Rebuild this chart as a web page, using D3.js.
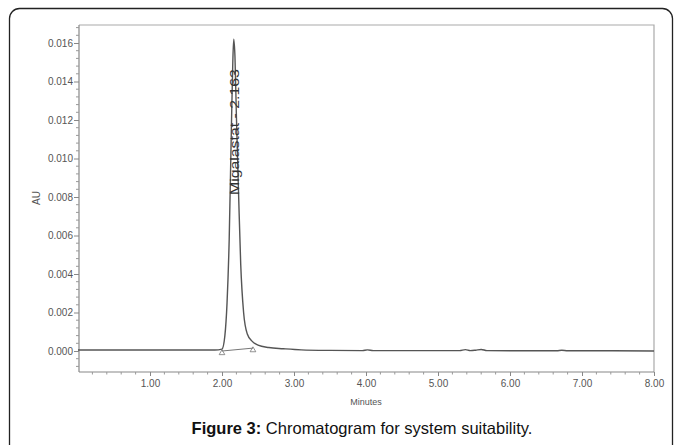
<!DOCTYPE html>
<html>
<head>
<meta charset="utf-8">
<script src="https://cdn.jsdelivr.net/npm/d3@7"></script>
<style>
  body { margin: 0; background: #fff; }
  svg { display: block; font-family: "Liberation Sans", Arial, sans-serif; }
</style>
</head>
<body>
<svg id="chart" width="683" height="445"></svg>
<script>
// chromatogram trace (minutes, AU)
const times = [0, 0.5, 1.0, 1.5, 1.9, 2.0, 2.04, 2.07, 2.10, 2.13, 2.15, 2.163, 2.18, 2.20, 2.23, 2.26, 2.30, 2.35, 2.42, 2.5, 2.65, 2.85, 3.1, 3.5, 3.95, 4.02, 4.1, 4.6, 5.3, 5.38, 5.45, 5.52, 5.6, 5.68, 6.2, 6.65, 6.72, 6.8, 7.4, 8.0];
const absorb = [0.00005, 0.00005, 0.00005, 0.00005, 0.00005, 0.0001, 0.0008, 0.0025, 0.0058, 0.0115, 0.0150, 0.0162, 0.0153, 0.0122, 0.0082, 0.0045, 0.0020, 0.0009, 0.0005, 0.0003, 0.00018, 0.00012, 0.00006, 0.00003, 0.00002, 0.00006, 0.00002, 0.00002, 0.00002, 0.00007, 0.00002, 0.00004, 0.00008, 0.00002, 0.00001, 0.00001, 0.00004, 0.00001, 0.00001, 0.0];
// integration baseline start/end
const baseT = [2.0, 2.43];
const baseA = [0.0, 0.00015];

const yTicks = [0.000, 0.002, 0.004, 0.006, 0.008, 0.010, 0.012, 0.014, 0.016];
const xTicks = [1, 2, 3, 4, 5, 6, 7, 8];
const peakLabel = "Migalastat - 2.163";

const svg = d3.select("#chart");

// outer figure frame
svg.append("rect")
    .attr("x", 9.5).attr("y", 8.5)
    .attr("width", 663).attr("height", 470)
    .attr("rx", 10)
    .attr("fill", "none")
    .attr("stroke", "#222")
    .attr("stroke-width", 1.3);

const plotL = 79, plotR = 654, plotT = 25, plotB = 372;

const x = d3.scaleLinear().domain([0, 8]).range([78, 654]);
const y = d3.scaleLinear().domain([0, 0.016]).range([351, 43]);

// frame top and right
svg.append("path")
    .attr("d", "M" + plotL + "," + plotT + "H" + plotR + "V" + plotB)
    .attr("fill", "none")
    .attr("stroke", "#aaa")
    .attr("stroke-width", 1.2);

// y axis
const yAxis = svg.append("g")
    .attr("transform", "translate(" + plotL + ",0)")
    .call(d3.axisLeft(y).tickValues(yTicks).tickFormat(d3.format(".3f")).tickSize(5).tickSizeOuter(0));
yAxis.select(".domain").remove();
yAxis.append("line")
    .attr("y1", plotT).attr("y2", plotB)
    .attr("stroke", "#888").attr("stroke-width", 1.2);
yAxis.selectAll(".tick line").attr("stroke", "#888");
yAxis.selectAll(".tick text").attr("fill", "#555").attr("font-size", 10).attr("x", -6);

const yMinor = d3.range(-0.0008, 0.01695, 0.0004).filter(function(v) { return Math.abs(Math.round(v / 0.002) * 0.002 - v) > 1e-6; });
yAxis.selectAll(".minor").data(yMinor).enter().append("line")
    .attr("x1", -3).attr("x2", 0)
    .attr("y1", function(d) { return y(d); }).attr("y2", function(d) { return y(d); })
    .attr("stroke", "#999");

// x axis
const xAxis = svg.append("g")
    .attr("transform", "translate(0," + plotB + ")")
    .call(d3.axisBottom(x).tickValues(xTicks).tickFormat(d3.format(".2f")).tickSize(4).tickSizeOuter(0));
xAxis.select(".domain").remove();
xAxis.append("line")
    .attr("x1", plotL).attr("x2", plotR)
    .attr("stroke", "#888").attr("stroke-width", 1.2);
xAxis.selectAll(".tick line").attr("stroke", "#888");
xAxis.selectAll(".tick text").attr("fill", "#555").attr("font-size", 10).attr("y", 8);

const xMinor = d3.range(0.2, 8, 0.2).filter(function(v) { return Math.abs(Math.round(v) - v) > 1e-6; });
xAxis.selectAll(".minor").data(xMinor).enter().append("line")
    .attr("x1", function(d) { return x(d); }).attr("x2", function(d) { return x(d); })
    .attr("y1", 0).attr("y2", 2.5)
    .attr("stroke", "#999");

// axis titles
svg.append("text")
    .attr("transform", "translate(40,198) rotate(-90)")
    .attr("text-anchor", "middle")
    .attr("font-size", 10).attr("fill", "#555")
    .text("AU");
svg.append("text")
    .attr("x", 366).attr("y", 405)
    .attr("text-anchor", "middle")
    .attr("font-size", 9).attr("fill", "#555")
    .text("Minutes");

// trace
const pts = times.map(function(t, i) { return [t, absorb[i]]; });
const line = d3.line()
    .x(function(d) { return x(d[0]); })
    .y(function(d) { return y(d[1]); })
    .curve(d3.curveMonotoneX);

svg.append("path")
    .datum(pts)
    .attr("d", line)
    .attr("fill", "none")
    .attr("stroke", "#555")
    .attr("stroke-width", 1.4);

// baseline drop + markers
svg.append("line")
    .attr("x1", x(baseT[0])).attr("y1", y(baseA[0]))
    .attr("x2", x(baseT[1])).attr("y2", y(baseA[1]))
    .attr("stroke", "#777").attr("stroke-width", 1);
svg.selectAll(".mark").data(baseT.map(function(t, i) { return [t, baseA[i]]; })).enter().append("path")
    .attr("d", d3.symbol(d3.symbolTriangle, 14))
    .attr("transform", function(d) { return "translate(" + x(d[0]) + "," + (y(d[1]) + 2) + ")"; })
    .attr("fill", "none")
    .attr("stroke", "#777")
    .attr("stroke-width", 0.8);

// peak label
svg.append("text")
    .attr("transform", "translate(" + (x(2.163) + 5) + "," + y(0.0081) + ") rotate(-90)")
    .attr("font-size", 13.5).attr("fill", "#333")
    .attr("textLength", 126).attr("lengthAdjust", "spacingAndGlyphs")
    .text(peakLabel);

// caption
const cap = svg.append("text")
    .attr("x", 362).attr("y", 434)
    .attr("text-anchor", "middle")
    .attr("font-size", 16.5).attr("fill", "#111");
cap.append("tspan").attr("font-weight", "bold").text("Figure 3:");
cap.append("tspan").text(" Chromatogram for system suitability.");
</script>
</body>
</html>
